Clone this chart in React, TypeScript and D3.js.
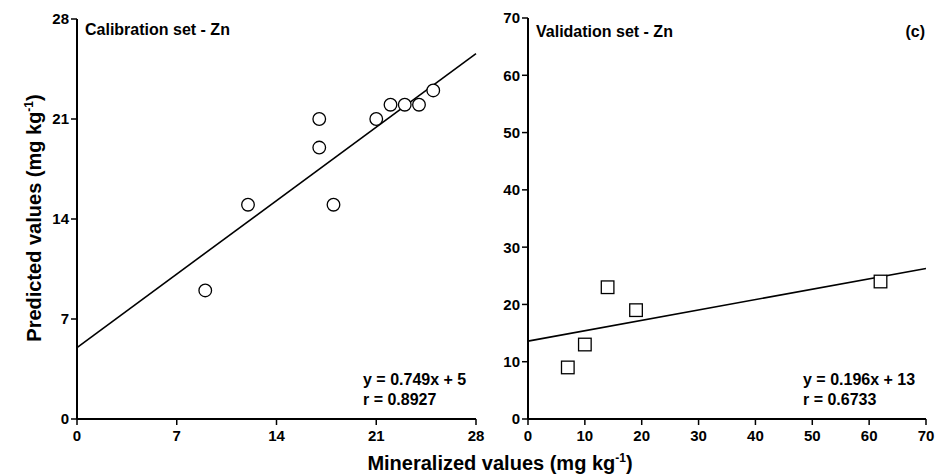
import React from "react";
import * as d3 from "d3";

const calX = [9, 12, 17, 17, 18, 21, 22, 23, 24, 25];
const calY = [9, 15, 21, 19, 15, 21, 22, 22, 22, 23];
const calTicks = [0, 7, 14, 21, 28];
const calFit = { intercept: 5, slope: 0.735 };
const calEq = ["y = 0.749x + 5", "r = 0.8927"];

const valX = [7, 10, 14, 19, 62];
const valY = [9, 13, 23, 19, 24];
const valTicks = [0, 10, 20, 30, 40, 50, 60, 70];
const valFit = { intercept: 13.6, slope: 0.181 };
const valEq = ["y = 0.196x + 13", "r = 0.6733"];

const FONT = "Liberation Sans, Arial, sans-serif";

type PanelProps = {
  x0: number; x1: number; y0: number; y1: number;
  max: number; ticks: number[]; xs: number[]; ys: number[];
  fit: { intercept: number; slope: number };
  title: string; titleDy: number; eq: string[]; eqX: number; marker: "circle" | "square";
  tag?: string;
};

function Panel(p: PanelProps) {
  const x = d3.scaleLinear().domain([0, p.max]).range([p.x0, p.x1]);
  const y = d3.scaleLinear().domain([0, p.max]).range([p.y0, p.y1]);
  const line = d3.line<number>().x((v) => x(v)).y((v) => y(p.fit.intercept + p.fit.slope * v));
  const fitPath = line([0, p.max]) || "";
  return (
    <g fontFamily={FONT} fontWeight="bold">
      <path d={fitPath} stroke="#000" strokeWidth={1.6} fill="none" />
      {p.xs.map((xv, i) =>
        p.marker === "circle" ? (
          <circle key={i} cx={x(xv)} cy={y(p.ys[i])} r={6.3} fill="#fff" stroke="#000" strokeWidth={1.3} />
        ) : (
          <rect key={i} x={x(xv) - 6.3} y={y(p.ys[i]) - 6.3} width={12.6} height={12.6} fill="#fff" stroke="#000" strokeWidth={1.3} />
        )
      )}
      <line x1={p.x0} x2={p.x0} y1={p.y1} y2={p.y0} stroke="#000" strokeWidth={2} />
      <line x1={p.x0} x2={p.x1} y1={p.y0} y2={p.y0} stroke="#000" strokeWidth={2} />
      {p.ticks.map((t) => (
        <g key={"y" + t}>
          <line x1={p.x0 - 6} x2={p.x0} y1={y(t)} y2={y(t)} stroke="#000" strokeWidth={1.5} />
          <text x={p.x0 - 8} y={y(t)} dy="0.36em" textAnchor="end" fontSize={15}>{t}</text>
        </g>
      ))}
      {p.ticks.map((t) => (
        <g key={"x" + t}>
          <line x1={x(t)} x2={x(t)} y1={p.y0} y2={p.y0 + 6} stroke="#000" strokeWidth={1.5} />
          <text x={x(t)} y={p.y0 + 22} textAnchor="middle" fontSize={15}>{t}</text>
        </g>
      ))}
      <text x={p.x0 + 8} y={p.y1 + p.titleDy} fontSize={16}>{p.title}</text>
      {p.tag && <text x={p.x1 - 1} y={p.y1 + p.titleDy} textAnchor="end" fontSize={16}>{p.tag}</text>}
      <text x={p.eqX} y={p.y0 - 34} fontSize={16}>{p.eq[0]}</text>
      <text x={p.eqX} y={p.y0 - 14} fontSize={16}>{p.eq[1]}</text>
    </g>
  );
}

export default function App() {
  return (
    <svg width={935} height={474} style={{ position: "absolute", left: 0, top: 0, background: "#fff" }}>
      <rect width={935} height={474} fill="#fff" />
      <Panel x0={77} x1={476} y0={419} y1={19} max={28} ticks={calTicks} xs={calX} ys={calY}
        fit={calFit} title="Calibration set - Zn" titleDy={16} eq={calEq} eqX={363} marker="circle" />
      <Panel x0={528} x1={926} y0={419} y1={18} max={70} ticks={valTicks} xs={valX} ys={valY}
        fit={valFit} title="Validation set - Zn" titleDy={19} eq={valEq} eqX={803} marker="square" tag="(c)" />
      <text x={500} y={470} textAnchor="middle" fontFamily={FONT} fontWeight="bold" fontSize={20}>
        Mineralized values (mg kg<tspan dy={-8} fontSize={12}>-1</tspan><tspan dy={8}>)</tspan>
      </text>
      <text transform="translate(41,218) rotate(-90)" textAnchor="middle" fontFamily={FONT} fontWeight="bold" fontSize={20}>
        Predicted values (mg kg<tspan dy={-8} fontSize={12}>-1</tspan><tspan dy={8}>)</tspan>
      </text>
    </svg>
  );
}
